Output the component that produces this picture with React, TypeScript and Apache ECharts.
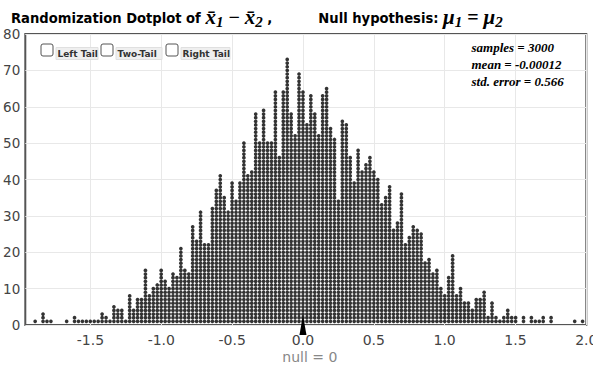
import React, { useEffect, useRef } from "react";
import * as echarts from "echarts";

// Dotplot bins: counts per column, first column index (bin center = index * binWidth)
const binWidth = 0.0278;
const firstBinIndex = -68;
const dotCounts = [
  1, 0, 3, 1, 1, 0, 0, 0, 1, 0, 2, 1, 1, 1, 1, 1, 1,
  3, 2, 1, 5, 4, 4, 1, 8, 4, 7, 7, 15, 8, 10, 11, 15, 12, 10,
  14, 13, 21, 15, 14, 27, 23, 31, 22, 22, 32, 37, 41, 35, 31, 39,
  34, 39, 50, 41, 42, 58, 50, 59, 50, 50, 64, 46, 64, 73, 58, 52, 69,
  64, 55, 63, 58, 52, 63, 65, 54, 51, 34, 56, 55, 46, 39, 48, 42,
  44, 46, 42, 40, 33, 35, 38, 26, 28, 36, 22, 24, 27, 26, 25, 17, 18,
  14, 15, 10, 8, 13, 19, 8, 10, 6, 6, 4, 7, 7, 9, 2, 6, 2, 1, 2, 4, 2, 2, 0, 2, 0, 2, 1, 1, 2, 0, 2,
  0, 0, 0, 0, 0, 1, 0, 1,
];
const xTickValues = [-1.5, -1.0, -0.5, 0.0, 0.5, 1.0, 1.5, 2.0];
const xMin = -1.96;
const xMax = 2.0;
const yMin = 0;
const yMax = 80;
const yInterval = 10;
const nullValue = 0;
const nullLabel = "null = 0";
const statLines = ["samples = 3000", "mean = -0.00012", "std. error = 0.566"];
const tailOptions = ["Left Tail", "Two-Tail", "Right Tail"];

export default function App() {
  const ref = useRef<HTMLDivElement>(null);
  useEffect(() => {
    document.body.style.margin = "0";
    document.documentElement.style.overflow = "hidden";
    const chart = echarts.init(ref.current!, null, { renderer: "svg" });
    const points: number[][] = [];
    dotCounts.forEach((n, i) => {
      const x = +((firstBinIndex + i) * binWidth).toFixed(4);
      for (let k = 1; k <= n; k++) points.push([x, k]);
    });

    const cbX = [41, 101, 166];
    const lblW = [42, 46, 49];
    const graphics: any[] = [];
    tailOptions.forEach((t, i) => {
      graphics.push({
        type: "rect",
        shape: { x: cbX[i], y: 44, width: 12, height: 12, r: 2 },
        style: { fill: "#fff", stroke: "#555", lineWidth: 1 },
        z: 10,
      });
      graphics.push({
        type: "rect",
        shape: { x: cbX[i] + 15, y: 47.5, width: lblW[i], height: 12 },
        style: { fill: "#efefef", stroke: "#e0e0e0", lineWidth: 1 },
        z: 10,
      });
      graphics.push({
        type: "text",
        x: cbX[i] + 16.5,
        y: 53.5,
        style: {
          text: t,
          font: "bold 9px 'DejaVu Sans'",
          fill: "#333",
          verticalAlign: "middle",
          align: "left",
        },
        z: 11,
      });
    });
    statLines.forEach((s, i) => {
      graphics.push({
        type: "text",
        x: 471.5,
        y: 47.5 + i * 17,
        style: {
          text: s,
          font: "italic bold 13px 'Liberation Serif'",
          fill: "#000",
          verticalAlign: "middle",
          align: "left",
        },
        z: 11,
      });
    });

    const sans = { fontFamily: "'DejaVu Sans Condensed', 'DejaVu Sans'", fontWeight: "bold", fontSize: 14.6, color: "#000" };
    const serifM = { fontFamily: "'Liberation Serif', 'DejaVu Serif'", fontStyle: "italic", fontSize: 21, color: "#000" };
    chart.setOption({
      animation: false,
      title: {
        left: 6,
        top: 0,
        text:
          "{b|Randomization Dotplot of }{m|x\u0304}{s|1}{op| \u2212 }{m|x\u0304}{s|2}{b| ,}{g| }{b|Null hypothesis: }{m|\u03bc}{s|1}{op| = }{m|\u03bc}{s|2}",
        textStyle: {
          rich: {
            b: sans,
            g: { ...sans, width: 46 },
            m: serifM,
            op: { fontFamily: "'Liberation Serif'", fontSize: 20, color: "#000" },
            s: { fontFamily: "'Liberation Serif'", fontStyle: "italic", fontSize: 15, color: "#000", padding: [9, 0, 0, 0] },
          },
        },
      },
      grid: {
        left: 25.3,
        top: 34,
        width: 561,
        height: 291,
        show: true,
        borderColor: "#555",
        borderWidth: 2,
        outerBoundsMode: "none",
        containLabel: false,
      },
      xAxis: {
        type: "value",
        min: xMin,
        max: xMax,
        axisLine: { show: false },
        axisTick: { show: false, customValues: xTickValues },
        axisLabel: {
          customValues: xTickValues,
          formatter: (v: number) => v.toFixed(1),
          fontSize: 14,
          lineHeight: 13,
          color: "#444",
          fontFamily: "'DejaVu Sans'",
          margin: 8,
        },
        splitLine: { show: true, lineStyle: { color: "#e8e8e8", width: 1 } },
        name: nullLabel,
        nameLocation: "middle",
        nameGap: 25,
        nameMoveOverlap: false,
        nameTextStyle: { color: "#888", fontSize: 14, lineHeight: 13, fontFamily: "'DejaVu Sans'", padding: [0, 0, 0, 8] },
      },
      yAxis: {
        type: "value",
        min: yMin,
        max: yMax,
        interval: yInterval,
        axisLine: { show: false },
        axisTick: { show: false },
        axisLabel: { fontSize: 13.5, color: "#444", fontFamily: "'DejaVu Sans'", margin: 5 },
        splitLine: { show: true, lineStyle: { color: "#e8e8e8", width: 1 } },
      },
      series: [
        {
          type: "scatter",
          data: points,
          symbol: "circle",
          symbolSize: 3.7,
          itemStyle: { color: "#000" },
          silent: true,
          markPoint: {
            silent: true,
            symbol: "triangle",
            symbolSize: [7, 20],
            itemStyle: { color: "#000" },
            label: { show: false },
            data: [{ coord: [nullValue, 0] }],
          },
        },
      ],
      graphic: graphics,
    });
    return () => chart.dispose();
  }, []);
  return (
    <div
      ref={ref}
      style={{ position: "absolute", left: 0, top: 0, width: 593, height: 366 }}
    />
  );
}
